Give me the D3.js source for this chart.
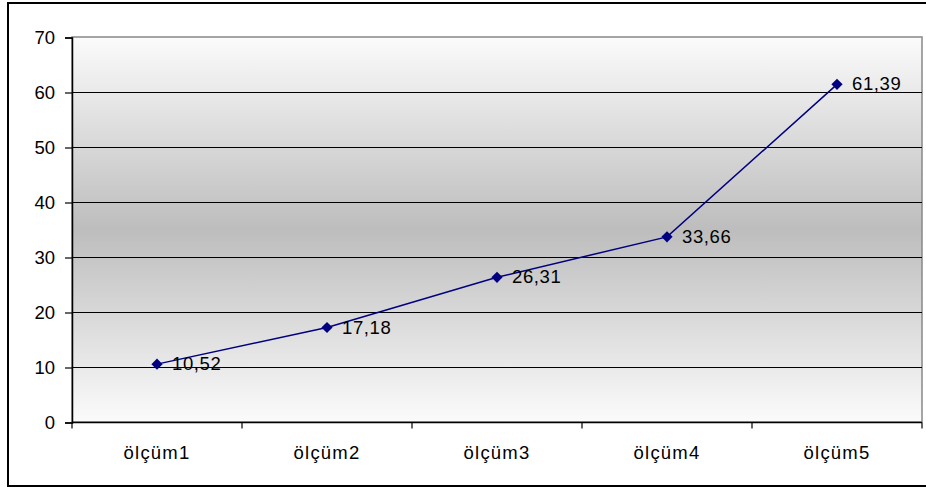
<!DOCTYPE html>
<html><head><meta charset="utf-8">
<script src="https://cdn.jsdelivr.net/npm/d3@7"></script>
<style>body{margin:0;background:#fff}svg{display:block}text{font-family:"Liberation Sans",Arial,sans-serif;fill:#000}</style>
</head><body>
<svg id="c" width="926" height="489"></svg>
<script>
const categories = ["ölçüm1","ölçüm2","ölçüm3","ölçüm4","ölçüm5"];
const values = [10.52,17.18,26.31,33.66,61.39];
const valueLabels = ["10,52","17,18","26,31","33,66","61,39"];
const yTicks = [0,10,20,30,40,50,60,70];

const svg = d3.select("#c");
const L = 72, R = 922, T = 37, B = 422;

svg.append("rect").attr("x",8).attr("y",3).attr("width",930).attr("height",483)
  .attr("fill","#fff").attr("stroke","#000").attr("stroke-width",2);

const defs = svg.append("defs");
const g = defs.append("linearGradient").attr("id","bg").attr("x1",0).attr("x2",0).attr("y1",0).attr("y2",1);
g.append("stop").attr("offset","0%").attr("stop-color","#fbfbfb");
g.append("stop").attr("offset","50%").attr("stop-color","#bdbdbd");
g.append("stop").attr("offset","100%").attr("stop-color","#fbfbfb");

const x = d3.scaleBand().domain(categories).range([L,R]).padding(0);
const y = d3.scaleLinear().domain([0,70]).range([B,T]);

svg.append("rect").attr("x",L).attr("y",T).attr("width",R-L).attr("height",B-T)
  .attr("fill","url(#bg)").attr("stroke","#888").attr("stroke-width",1.5);

// gridlines
svg.append("g").selectAll("line").data(yTicks.filter(d=>d>0 && d<70)).join("line")
  .attr("x1",L).attr("x2",R).attr("y1",d=>y(d)+0.5).attr("y2",d=>y(d)+0.5)
  .attr("stroke","#000").attr("stroke-width",1);

// y axis
const ya = svg.append("g").attr("transform",`translate(${L},0.5)`)
  .call(d3.axisLeft(y).tickValues(yTicks).tickSize(7).tickPadding(10).tickFormat(d3.format("d")));
ya.select(".domain").attr("stroke","#000").attr("stroke-width",1.5);
ya.selectAll(".tick line").attr("stroke","#000").attr("stroke-width",1.2);
ya.selectAll("text").attr("font-size",18.5).attr("font-family","Liberation Sans, Arial, sans-serif").attr("fill","#000");

// x axis
const xa = svg.append("g").attr("transform",`translate(0,${B+0.5})`);
xa.append("line").attr("x1",L).attr("x2",R).attr("stroke","#000").attr("stroke-width",1.5);
const bounds = categories.map(c=>x(c)).concat([x(categories[categories.length-1])+x.bandwidth()]);
xa.selectAll("line.tk").data(bounds).join("line").attr("class","tk")
  .attr("x1",d=>d).attr("x2",d=>d).attr("y1",0).attr("y2",6).attr("stroke","#000").attr("stroke-width",1.2);
xa.selectAll("text").data(categories).join("text")
  .attr("x",d=>x(d)+x.bandwidth()/2).attr("y",36.5)
  .attr("text-anchor","middle").attr("font-size",18.5).attr("letter-spacing",1.2).text(d=>d);

// line
const pts = categories.map((c,i)=>({c,v:values[i],lab:valueLabels[i]}));
svg.append("path").datum(pts)
  .attr("d",d3.line().x(d=>x(d.c)+x.bandwidth()/2).y(d=>y(d.v)))
  .attr("fill","none").attr("stroke","#000080").attr("stroke-width",1.5);

svg.append("g").selectAll("path").data(pts).join("path")
  .attr("d",d3.symbol(d3.symbolDiamond2,80))
  .attr("transform",d=>`translate(${x(d.c)+x.bandwidth()/2},${y(d.v)})`)
  .attr("fill","#000080");

svg.append("g").selectAll("text").data(pts).join("text")
  .attr("x",d=>x(d.c)+x.bandwidth()/2+15).attr("y",d=>y(d.v)+6)
  .attr("font-size",18.5).attr("letter-spacing",0.6).text(d=>d.lab);
</script>
</body></html>
